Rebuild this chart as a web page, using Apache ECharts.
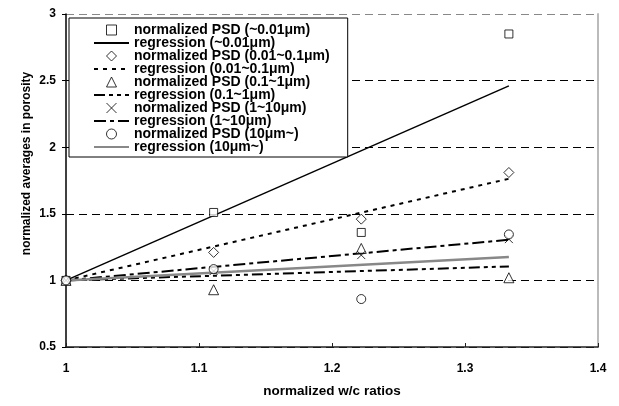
<!DOCTYPE html>
<html>
<head>
<meta charset="utf-8">
<script src="https://cdn.jsdelivr.net/npm/echarts@6/dist/echarts.min.js"></script>
<style>
html, body { margin: 0; padding: 0; background: #fff; }
#main { width: 619px; height: 406px; }
</style>
</head>
<body>
<div id="main"></div>
<script>
// normalized w/c ratios (x) and normalized PSD values per pore range
var wcRatio = [1, 1.111, 1.222, 1.333]
var psd001 = [1, 1.51, 1.36, 2.85]      // ~0.01um
var psd001to01 = [1, 1.21, 1.46, 1.81]  // 0.01~0.1um
var psd01to1 = [1, 0.93, 1.24, 1.02]    // 0.1~1um
var psd1to10 = [1, 1.07, 1.19, 1.31]    // 1~10um
var psd10 = [1, 1.085, 0.86, 1.345]     // 10um~

// regression lines: start / end values
var regX = [1, 1.333]
var reg001 = [1, 2.46]
var reg001to01 = [1, 1.763]
var reg01to1 = [1, 1.105]
var reg1to10 = [1, 1.305]
var reg10 = [1, 1.175]

var legendNames = [
    'normalized PSD (~0.01μm)', 'regression (~0.01μm)',
    'normalized PSD (0.01~0.1μm)', 'regression (0.01~0.1μm)',
    'normalized PSD (0.1~1μm)', 'regression (0.1~1μm)',
    'normalized PSD (1~10μm)', 'regression (1~10μm)',
    'normalized PSD (10μm~)', 'regression (10μm~)'
]

var FONT = 'Liberation Sans, Arial, sans-serif'

// marker shapes (paths keep their aspect in the legend)
var SQUARE = 'path://M0,0H10V10H0Z'
var DIAMOND = 'path://M5,0L10,5L5,10L0,5Z'
var TRIANGLE = 'path://M5,0L10,10L0,10Z'
var CROSS = 'path://M0,0L10,10M0,10L10,0'
var CIRCLE = 'path://M5,0A5,5,0,1,1,5,10A5,5,0,1,1,5,0Z'
var markerIcons = [SQUARE, DIAMOND, TRIANGLE, CROSS, CIRCLE]

function pairs(xs, ys) {
    var out = []
    for (var i = 0; i < xs.length; i++) {
        out.push([xs[i], ys[i]])
    }
    return out
}

function psdSeries(name, values, symbol, size) {
    return {
        name: name,
        type: 'scatter',
        data: pairs(wcRatio, values),
        symbol: symbol,
        symbolSize: size,
        itemStyle: { color: '#fff', borderColor: '#000', borderWidth: 1 },
        z: 5
    }
}

function regSeries(name, values, color, width, dash) {
    return {
        name: name,
        type: 'line',
        data: pairs(regX, values),
        symbol: 'circle',
        showSymbol: false,
        lineStyle: { color: color, width: width, type: dash },
        // keeps the legend icon to the line only
        itemStyle: { color: 'transparent', borderWidth: 0 },
        z: 3
    }
}

var legendData = legendNames.map(function (n, i) {
    if (i % 2 === 1) return { name: n, itemStyle: { opacity: 0 } }
    return {
        name: n,
        icon: markerIcons[i / 2],
        itemStyle: { color: '#fff', borderColor: '#000', borderWidth: 1 }
    }
})

var chart = echarts.init(document.getElementById('main'))

var option = {
    animation: false,
    backgroundColor: '#fff',
    textStyle: { fontFamily: FONT },
    grid: { left: 66, right: 21, top: 14, bottom: 59, containLabel: false, outerBoundsMode: 'none' },
    legend: {
        orient: 'vertical',
        left: 69,
        top: 18,
        padding: [5, 18, 3, 24],
        itemWidth: 35,
        itemHeight: 10,
        itemGap: -1,
        borderColor: '#000',
        borderWidth: 1,
        backgroundColor: '#fff',
        selectedMode: false,
        textStyle: { fontFamily: FONT, fontWeight: 'bold', fontSize: 14, color: '#000', lineHeight: 13 },
        data: legendData
    },
    xAxis: {
        type: 'value',
        min: 1,
        max: 1.4,
        interval: 0.1,
        name: 'normalized w/c ratios',
        nameLocation: 'middle',
        nameGap: 37,
        nameMoveOverlap: false,
        nameTextStyle: { fontFamily: FONT, fontWeight: 'bold', fontSize: 13.5, color: '#000' },
        axisLine: { lineStyle: { color: '#222', width: 1.5 } },
        axisTick: { inside: true, length: 4, lineStyle: { color: '#222' } },
        axisLabel: { fontFamily: FONT, fontWeight: 'bold', fontSize: 12, color: '#000', margin: 16 },
        splitLine: { show: false }
    },
    yAxis: [
        {
            type: 'value',
            min: 0.5,
            max: 3,
            interval: 0.5,
            name: 'normalized averages in porosity',
            nameLocation: 'middle',
            nameGap: 33,
            nameMoveOverlap: false,
            nameTextStyle: { fontFamily: FONT, fontWeight: 'bold', fontSize: 12, color: '#000', padding: [0, 0, 0, 34] },
            axisLine: { show: true, lineStyle: { color: '#000', width: 1.5 } },
            axisTick: { show: true, length: 4, lineStyle: { color: '#000' } },
            axisLabel: { fontFamily: FONT, fontWeight: 'bold', fontSize: 12, color: '#000', margin: 10 },
            splitLine: {
                show: true,
                lineStyle: {
                    color: ['#000', '#000', '#000', '#000', '#000', '#888'],
                    width: 1,
                    type: [8, 5]
                }
            }
        },
        {
            type: 'value',
            position: 'right',
            min: 0.5,
            max: 3,
            interval: 0.5,
            axisLine: { show: true, lineStyle: { color: '#bbb', width: 2 } },
            axisTick: { show: false },
            axisLabel: { show: false },
            splitLine: { show: false }
        }
    ],
    series: [
        psdSeries(legendNames[0], psd001, 'rect', 8),
        regSeries(legendNames[1], reg001, '#000', 1.5, 'solid'),
        psdSeries(legendNames[2], psd001to01, 'diamond', 10),
        regSeries(legendNames[3], reg001to01, '#000', 2, [4, 5]),
        psdSeries(legendNames[4], psd01to1, 'triangle', 10),
        regSeries(legendNames[5], reg01to1, '#000', 2, [11, 4, 4, 4, 4, 4]),
        psdSeries(legendNames[6], psd1to10, CROSS, 8),
        regSeries(legendNames[7], reg1to10, '#000', 2, [12, 4, 4, 4]),
        psdSeries(legendNames[8], psd10, 'circle', 9),
        regSeries(legendNames[9], reg10, '#888', 2.5, 'solid')
    ]
}

chart.setOption(option)
</script>
</body>
</html>
